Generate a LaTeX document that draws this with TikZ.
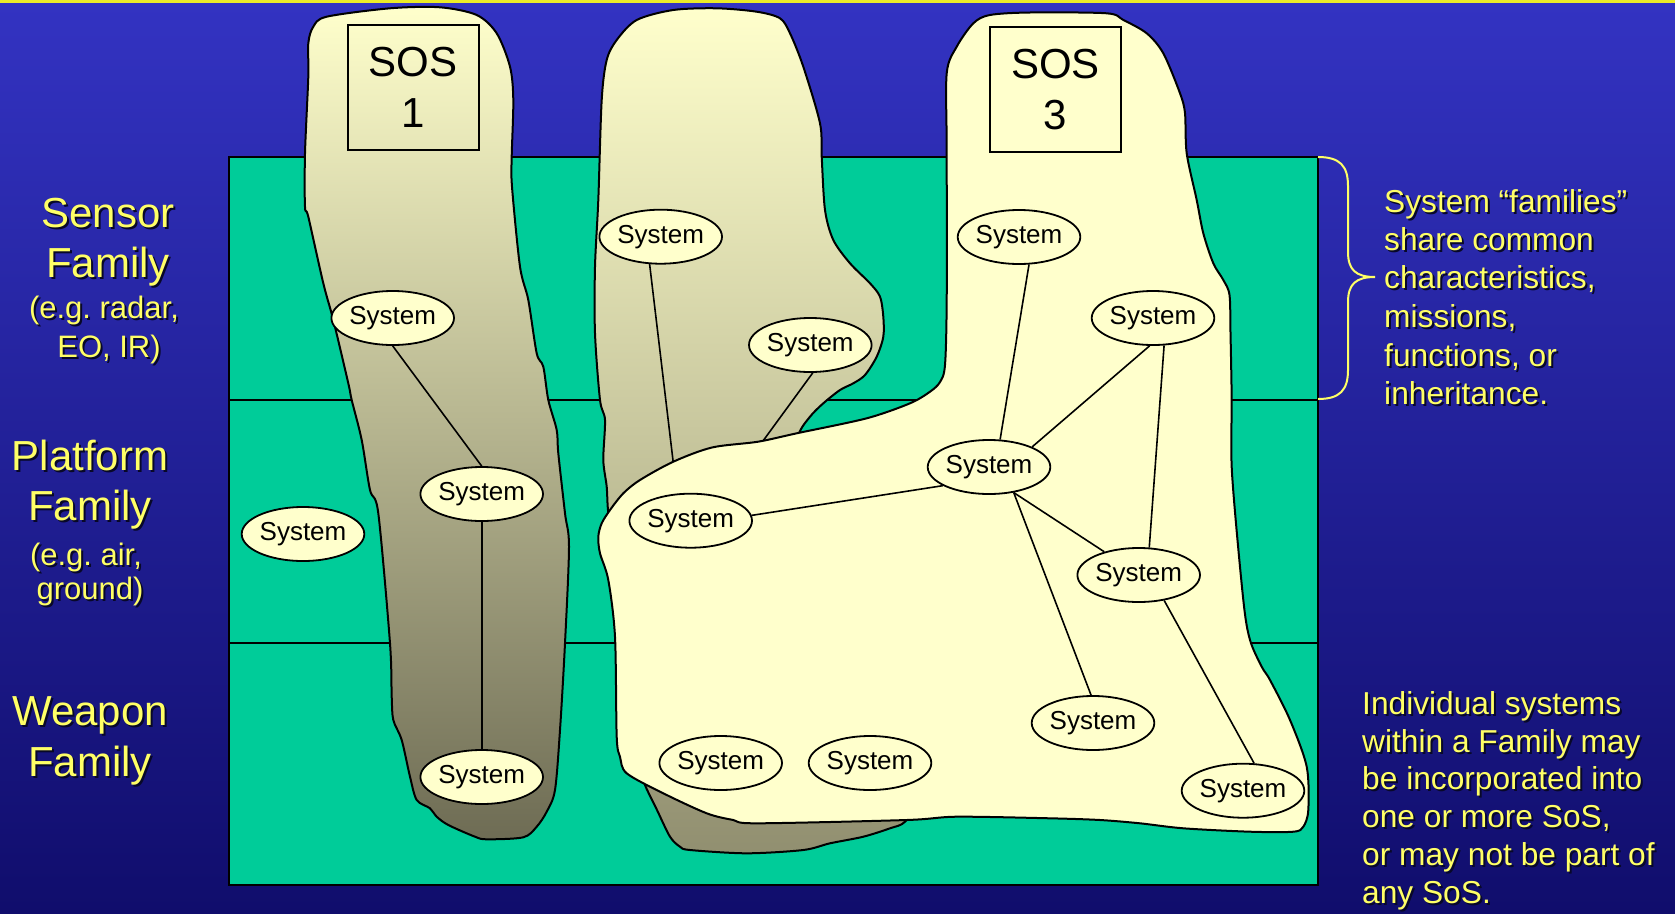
\documentclass[tikz,border=0pt]{standalone}
\usepackage{fontspec}
\setmainfont{Liberation Sans}
\usetikzlibrary{shapes.geometric}
\definecolor{bgtop}{RGB}{51,51,194}
\definecolor{bgbot}{RGB}{16,13,108}
\definecolor{topline}{RGB}{235,235,40}
\definecolor{famgreen}{RGB}{0,204,153}
\definecolor{sosfill}{RGB}{255,255,204}
\definecolor{sosdarkA}{RGB}{110,108,84}
\definecolor{sosdarkB}{RGB}{145,143,112}
\definecolor{labyellow}{RGB}{255,255,102}
\definecolor{shadowc}{RGB}{8,8,40}
\newcommand{\shd}[1]{\makebox[0pt][l]{\kern2pt\raisebox{-2pt}{\textcolor{shadowc}{#1}}}#1}
\frenchspacing
\begin{document}
\begin{tikzpicture}[x=1pt,y=-1pt,
  sysnode/.style={ellipse, draw=black, line width=1.8pt, fill=sosfill, minimum width=120pt, minimum height=54pt, inner sep=0pt, font=\fontsize{26}{30}\selectfont},
  link/.style={draw=black, line width=1.6pt},
  blob/.style={draw=black, line width=2pt, line join=round},
  sosbox/.style={draw=black, line width=2pt, minimum width=131pt, minimum height=125pt, inner sep=0pt, align=center, font=\fontsize{42}{51}\selectfont},
  biglab/.style={text=labyellow, inner sep=0pt, anchor=base, font=\fontsize{42}{50}\selectfont},
  smalllab/.style={text=labyellow, inner sep=0pt, anchor=base, font=\fontsize{31}{37}\selectfont},
  notelab/.style={text=labyellow, inner sep=0pt, anchor=base west, font=\fontsize{31.7}{38}\selectfont},
]
\useasboundingbox (0,0) rectangle (1675,913);
% background
\shade[top color=bgtop, bottom color=bgbot] (0,0) rectangle (1675,913);
\fill[topline] (0,0) rectangle (1675,2.5);
% family bands
\draw[fill=famgreen, line width=2pt] (228.6,157) rectangle (1318,884.5);
\draw[line width=2pt] (228.6,399.5) -- (1318,399.5);
\draw[line width=2pt] (228.6,643) -- (1318,643);
% left labels
\node[biglab] (sensA) at (108,227) {\shd{Sensor}};
\node[biglab] (sensB) at (108,277) {\shd{Family}};
\node[smalllab] (sensC) at (104,318) {\shd{(e.g. radar,}};
\node[smalllab] (sensD) at (109,357) {\shd{EO, IR)}};
\node[biglab] (platA) at (90,470) {\shd{Platform}};
\node[biglab] (platB) at (90,520) {\shd{Family}};
\node[smalllab] (platC) at (86,565) {\shd{(e.g. air,}};
\node[smalllab] (platD) at (90,599) {\shd{ground)}};
\node[biglab] (weapA) at (90,725) {\shd{Weapon}};
\node[biglab] (weapB) at (90,776) {\shd{Family}};
% right notes
\draw[labyellow, line width=2pt] (1318,157) .. controls (1340,157) and (1348,166) .. (1348,186) -- (1348,252) .. controls (1348,270) and (1356,277) .. (1375,277) .. controls (1356,277) and (1348,284) .. (1348,302) -- (1348,370) .. controls (1348,390) and (1340,399) .. (1318,399);
\node[notelab] (na1) at (1384,212) {\shd{System “families”}};
\node[notelab] (na2) at (1384,250) {\shd{share common}};
\node[notelab] (na3) at (1384,288) {\shd{characteristics,}};
\node[notelab] (na4) at (1384,327) {\shd{missions,}};
\node[notelab] (na5) at (1384,366) {\shd{functions, or}};
\node[notelab] (na6) at (1384,404) {\shd{inheritance.}};
\node[notelab] (nb1) at (1362,714) {\shd{Individual systems}};
\node[notelab] (nb2) at (1362,752) {\shd{within a Family may}};
\node[notelab] (nb3) at (1362,789) {\shd{be incorporated into}};
\node[notelab] (nb4) at (1362,827) {\shd{one or more SoS,}};
\node[notelab] (nb5) at (1362,865) {\shd{or may not be part of}};
\node[notelab] (nb6) at (1362,903) {\shd{any SoS.}};
% SOS 1
\path[blob, top color=sosfill, bottom color=sosdarkA] plot[smooth cycle, tension=0.5] coordinates {
 (308.3,43.3) (313.3,26.7) (326.7,16.7) (390,8.3) (440,7.3) (476.7,15) (496.7,33.3) (510,66.7) (513.3,100) (511.7,156.7) (512,186.7) (520,266.7) (528.3,300) (536.7,353.3) (543.3,366.7) (548.3,400) (556.7,430) (558.3,453.3) (565,513.3) (569,546.7) (565,643.3) (560,730) (555,790) (546.7,811.7) (536.7,826.7) (523.3,837.3) (486.7,839.3) (475,836.7) (448.3,825) (436.7,816.7) (430,808.3) (416.7,800) (410,776.7) (401.7,740) (393.3,720) (391.7,696.7) (390,643.3) (378.3,513.3) (370,490) (361.7,440) (351.7,400) (348.3,383.3) (333.3,320) (323.3,283.3) (308.3,216.7) (305,206.7) (305,153.3) (308.3,76.7)};
\node[sosbox] (sos1) at (413,87.5) {SOS\\1};
\node[sysnode] (s1) at (392.7,318) {System};
\node[sysnode] (s2) at (481.7,494) {System};
\node[sysnode] (s3) at (481.7,777) {System};
\draw[link] (s1.south) -- (s2.north);
\draw[link] (s2.south) -- (s3.north);
% lone system
\node[sysnode] (s4) at (303,534) {System};
% SOS 2
\path[blob, top color=sosfill, bottom color=sosdarkB] plot[smooth cycle, tension=0.5] coordinates {
 (606.7,60) (616.7,40) (636.7,20) (673.3,10) (716.7,8.3) (756.7,11.7) (780,18.3) (790,33.3) (803.3,66.7) (820,123.3) (821.7,156.7) (825,210) (833.3,240) (850,263.3) (870,283.3) (880,296.7) (883.3,316.7) (883.3,336.7) (876.7,356.7) (865,375) (853.3,383.3) (840,390) (823.3,403.3) (810,416.7) (798,436) (790,480) (800,620) (880,760) (918,798) (905,821.7) (890,828.3) (863.3,836.7) (830,843.3) (803.3,850) (746.7,853.3) (690,850) (680,846.7) (670,836.7) (657,810) (645,785) (637,760) (632,700) (627,620) (615,560) (608.3,513.3) (606.7,486.7) (603.3,460) (605,420) (600,400) (595,333.3) (595,266.7) (598.3,200) (601.7,100)};
\node[sysnode] (s5) at (660.7,236.7) {System};
\node[sysnode] (s6) at (810.3,345) {System};
\coordinate (h5) at (677,494);
\coordinate (h6) at (722,497);
\draw[link] (s5.248) -- (h5);
\draw[link] (s6.275) -- (h6);
% SOS 3
\path[blob, fill=sosfill] plot[smooth cycle, tension=0.5] coordinates {
 (946.7,73.3) (956.7,46.7) (973.3,23.3) (990,15) (1030,12.5) (1106.7,13.3) (1123.3,20) (1146.7,33.3) (1163.3,53.3) (1180,93.3) (1185,113.3) (1186.7,153.3) (1196.7,200) (1203.3,233.3) (1213.3,263.3) (1223.3,280) (1229.5,295) (1230.5,333) (1231.7,400) (1232,473) (1243.3,600) (1250,640) (1261.7,666.7) (1270,680) (1290,720) (1306.7,766.7) (1308.3,810) (1303.3,826.7) (1293.3,831.7) (1250,831.7) (1183.3,828.3) (1140,823.3) (1100,820) (1050,818.3) (956.7,816.7) (906.7,820) (756.7,823.3) (733.3,820) (706.7,813.3) (663.3,793.3) (626.7,773.3) (620,756.7) (616.7,736.7) (615,636.7) (608.3,580) (600,553.3) (598.3,536.7) (601.7,523.3) (610,510) (623.3,493.3) (640,480) (673.3,461.7) (712,447.5) (758,441.7) (796.7,433.3) (866.7,418.3) (910,403.3) (930,391.7) (940,382) (945,365) (946.7,300) (946.7,150)};
\node[sosbox] (sos3) at (1055.5,89.7) {SOS\\3};
\node[sysnode] (s7) at (1019,237) {System};
\node[sysnode] (s8) at (1153,318) {System};
\node[sysnode] (s9) at (989,467) {System};
\node[sysnode] (s10) at (690.7,520.7) {System};
\node[sysnode] (s11) at (1138.7,575) {System};
\node[sysnode] (s12) at (1093,723) {System};
\node[sysnode] (s13) at (1243,790.7) {System};
\node[sysnode] (s14) at (720.7,763) {System};
\node[sysnode] (s15) at (870,763) {System};
\draw[link] (s7.290) -- (s9.68);
\draw[link] (s8.263) -- (s9.25);
\draw[link] (s8.292) -- (s11.69);
\draw[link] (s10.5) -- (s9.202);
\draw[link] (s9.314) -- (s11.146);
\draw[link] (s9.314) -- (s12.94);
\draw[link] (s11.315) -- (s13.68);
\end{tikzpicture}
\end{document}
